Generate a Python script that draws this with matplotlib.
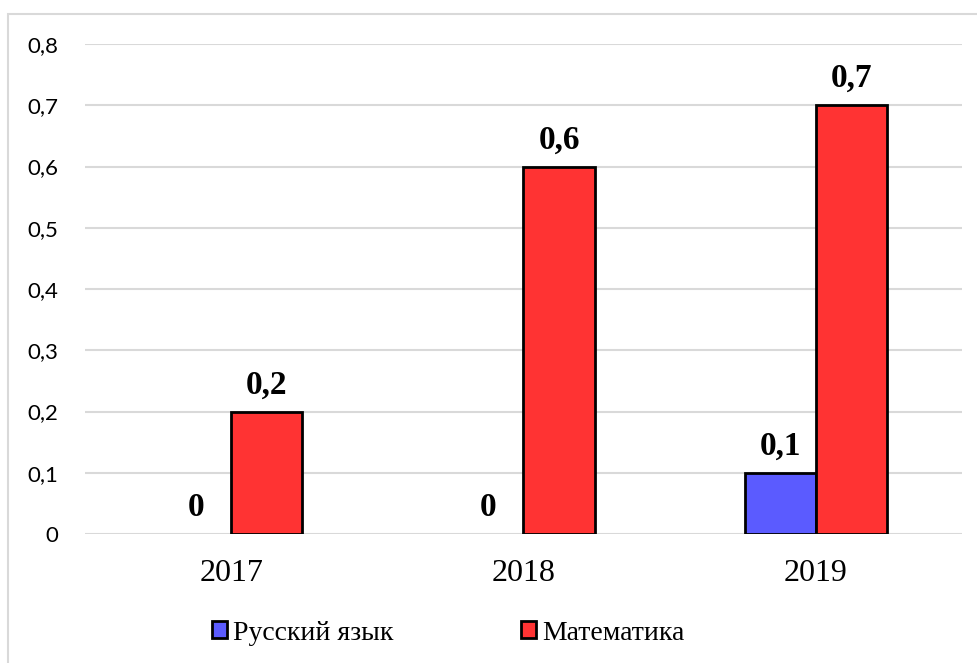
import matplotlib.pyplot as plt
import numpy as np
from matplotlib.patches import Rectangle

years = ["2017", "2018", "2019"]
russian = [0, 0, 0.1]
math_vals = [0.2, 0.6, 0.7]
russian_labels = ["0", "0", "0,1"]
math_labels = ["0,2", "0,6", "0,7"]
y_ticks = [0, 0.1, 0.2, 0.3, 0.4, 0.5, 0.6, 0.7, 0.8]
y_tick_labels = ["0", "0,1", "0,2", "0,3", "0,4", "0,5", "0,6", "0,7", "0,8"]

W, H = 978, 663
fig = plt.figure(figsize=(W / 100, H / 100), dpi=100)
# thin outer frame of the chart area (top and left visible)
fig.patches.append(Rectangle((8 / W, -0.1), 1.2, 1 - 14 / H + 0.1, transform=fig.transFigure,
                             fill=False, edgecolor="#D9D9D9", linewidth=1.5))

ax = fig.add_axes([85 / W, 1 - 534 / H, (962 - 85) / W, (534 - 44) / H])

x = np.arange(len(years))
w = 0.243
blue = "#5B5BFF"
red = "#FF3333"
# zero-height bars get no outline so they stay invisible
b1 = ax.bar(x - w / 2, russian, w, color=blue, edgecolor="black",
            linewidth=[2 if v > 0 else 0 for v in russian], zorder=3)
b2 = ax.bar(x + w / 2, math_vals, w, color=red, edgecolor="black", linewidth=2, zorder=3)

serif = "Liberation Serif"
for i in range(len(years)):
    ax.annotate(russian_labels[i], (x[i] - w / 2, russian[i]), xytext=(0, 8), textcoords="offset points",
                ha="center", va="bottom", fontsize=24, fontweight="bold", family=serif)
    ax.annotate(math_labels[i], (x[i] + w / 2, math_vals[i]), xytext=(0, 8), textcoords="offset points",
                ha="center", va="bottom", fontsize=24, fontweight="bold", family=serif)

ax.set_xlim(-0.5, 2.5)
ax.set_ylim(0, 0.8)
ax.set_yticks(y_ticks)
ax.set_yticklabels(y_tick_labels, fontsize=16, family="Lato")
ax.set_xticks(x)
ax.set_xticklabels(years, fontsize=23, family=serif)
ax.tick_params(length=0)
ax.tick_params(axis="y", pad=19)
ax.tick_params(axis="x", pad=18)
ax.grid(axis="y", color="#D9D9D9", linewidth=1.5, zorder=0)
for s in ax.spines.values():
    s.set_visible(False)

leg = fig.legend([b1, b2], ["Русский язык", "Математика"], loc="center", bbox_to_anchor=(448 / W, 1 - 633 / H),
                 ncol=2, frameon=False, prop={"family": serif, "size": 20},
                 handlelength=0.55, handleheight=0.55, handletextpad=0.2, columnspacing=4.6)
for h in leg.legend_handles:
    h.set_linewidth(2)
for t in leg.get_texts():
    t.set_fontfamily(serif)

fig.savefig("out.png", dpi=100)
